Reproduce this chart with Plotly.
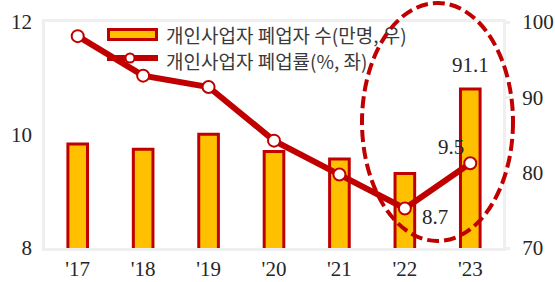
import plotly.graph_objects as go

years = ["'17", "'18", "'19", "'20", "'21", "'22", "'23"]
closures = [83.8, 83.1, 85.1, 82.8, 81.8, 79.9, 91.1]      # 만명, right axis
closure_rate = [11.75, 11.05, 10.85, 9.9, 9.3, 8.7, 9.5]   # %, left axis
legend_names = ["개인사업자 폐업자 수(만명, 우)", "개인사업자 폐업률(%, 좌)"]

RED = "#c00000"
YEL = "#ffc000"
NUMFONT = "Liberation Serif"
KRFONT = "Noto Sans CJK KR"
FRAME = "#efefef"
TXT = "#262626"
NUMSIZE = 21

fig = go.Figure()
fig.add_trace(go.Bar(
    x=years, y=closures, yaxis="y", name=legend_names[0],
    marker=dict(color=YEL, line=dict(color=RED, width=3)),
    width=0.3, showlegend=False,
))
fig.add_trace(go.Scatter(
    x=years, y=closure_rate, yaxis="y2", name=legend_names[1],
    mode="lines+markers",
    line=dict(color=RED, width=6),
    marker=dict(size=12, color="white", line=dict(color=RED, width=2)),
    cliponaxis=False, showlegend=False,
))

# plot area pixel geometry: x 45..503, y 22..248
L, R, T, B = 45, 52, 22, 34
W = 555 - L - R
H = 282 - T - B

def px(xp):
    return (xp - L) / W

def py(yp):
    return (282 - B - yp) / H

shapes = [
    # legend: bar symbol
    dict(type="rect", xref="paper", yref="paper",
         x0=px(108.5), x1=px(156.5), y0=py(39.5), y1=py(29.5),
         fillcolor=YEL, line=dict(color=RED, width=3), layer="above"),
    # legend: line symbol
    dict(type="line", xref="paper", yref="paper",
         x0=px(107), x1=px(158), y0=py(58), y1=py(58),
         line=dict(color=RED, width=6), layer="above"),
    dict(type="circle", xref="paper", yref="paper",
         xsizemode="pixel", ysizemode="pixel",
         xanchor=px(130), yanchor=py(58), x0=-4.5, x1=4.5, y0=-4.5, y1=4.5,
         fillcolor="white", line=dict(color=RED, width=2), layer="above"),
    # dashed highlight ellipse
    dict(type="circle", xref="paper", yref="paper",
         x0=px(362), x1=px(513), y0=py(241), y1=py(3),
         line=dict(color=RED, width=4, dash="12px,5px"), layer="above"),
]

numfont = dict(family=NUMFONT, size=NUMSIZE, color=TXT)
annotations = [
    dict(xref="paper", yref="paper", x=px(164), y=py(35), text=legend_names[0],
         showarrow=False, xanchor="left", yanchor="middle",
         font=dict(family=KRFONT, size=19, color="#3a3a3a")),
    dict(xref="paper", yref="paper", x=px(164), y=py(60), text=legend_names[1],
         showarrow=False, xanchor="left", yanchor="middle",
         font=dict(family=KRFONT, size=19, color="#3a3a3a")),
    # data labels
    dict(xref="x", yref="y", x=years[6], y=closures[6], text=f"{closures[6]:.1f}",
         showarrow=False, yanchor="middle", yshift=24, font=numfont),
    dict(xref="x", yref="y2", x=years[5], y=closure_rate[5], text=f"{closure_rate[5]:.1f}",
         showarrow=False, yanchor="middle", xshift=30, yshift=-9, font=numfont),
    dict(xref="x", yref="y2", x=years[6], y=closure_rate[6], text=f"{closure_rate[6]:.1f}",
         showarrow=False, yanchor="middle", xshift=-19, yshift=16, font=numfont),
]

fig.update_layout(
    template="none",
    width=555, height=282,
    margin=dict(l=L, r=R, t=T, b=B, autoexpand=False),
    paper_bgcolor="white", plot_bgcolor="white",
    shapes=shapes, annotations=annotations,
    xaxis=dict(
        type="category", showgrid=False, zeroline=False, automargin=False,
        showline=True, linecolor=FRAME, linewidth=3, mirror=True,
        ticks="", tickfont=numfont,
    ),
    yaxis=dict(
        side="right", range=[70, 100], dtick=10, showgrid=False, zeroline=False,
        automargin=False,
        showline=True, linecolor=FRAME, linewidth=3, mirror=True,
        ticks="outside", ticklen=4, tickcolor=FRAME, tickwidth=3,
        ticklabelstandoff=8,
        tickfont=numfont,
    ),
    yaxis2=dict(
        side="left", overlaying="y", range=[8, 12], dtick=2,
        showgrid=False, zeroline=False, showline=False, automargin=False,
        ticks="", ticklabelstandoff=12,
        tickfont=numfont,
    ),
    font=dict(family=NUMFONT),
)

fig.write_html(
    "out.html",
    config={"displayModeBar": False},
    post_script="document.body.style.margin='0px';document.body.style.padding='0px';",
)
